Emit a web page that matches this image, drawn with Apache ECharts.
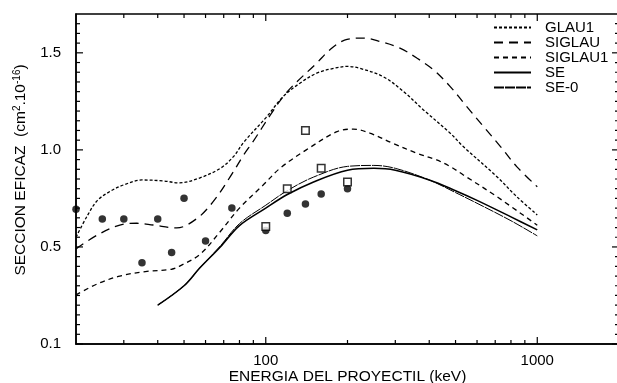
<!DOCTYPE html>
<html>
<head>
<meta charset="utf-8">
<script src="https://cdn.jsdelivr.net/npm/echarts@6/dist/echarts.min.js"></script>
<style>
  html, body { margin: 0; padding: 0; background: #fff; }
  #chart { width: 617px; height: 383px; }
</style>
</head>
<body>
<div id="chart"></div>
<script>
// curves (energy in keV, cross section)
const glau1E = [20, 22, 24, 27, 30, 35, 42, 48, 57, 68, 76, 83, 100, 116, 134, 154, 178, 200, 222, 270, 322, 381, 478, 534, 710, 840, 1000];
const glau1V = [0.55, 0.66, 0.74, 0.79, 0.82, 0.845, 0.84, 0.83, 0.855, 0.905, 0.965, 1.04, 1.165, 1.275, 1.345, 1.395, 1.42, 1.43, 1.42, 1.378, 1.30, 1.206, 1.086, 1.017, 0.862, 0.759, 0.665];

const siglauE = [20, 24, 29, 33.5, 38.5, 47, 55.6, 64, 74, 83, 90, 104, 120, 154, 172, 195, 229, 264, 312, 360, 415, 478, 550, 634, 732, 840, 1000];
const siglauV = [0.49, 0.562, 0.613, 0.622, 0.613, 0.598, 0.645, 0.733, 0.862, 0.975, 1.045, 1.18, 1.30, 1.447, 1.515, 1.565, 1.576, 1.558, 1.524, 1.473, 1.412, 1.326, 1.223, 1.12, 1.017, 0.914, 0.81];

const siglau1E = [20, 24, 29, 36, 45, 48, 57, 67.6, 80, 98, 113, 141, 183, 210, 242, 294, 360, 426, 478, 534, 710, 1000];
const siglau1V = [0.253, 0.31, 0.35, 0.373, 0.385, 0.40, 0.46, 0.575, 0.70, 0.82, 0.906, 1.0, 1.094, 1.107, 1.086, 1.034, 0.983, 0.948, 0.914, 0.871, 0.759, 0.612];

const seE = [40, 50, 57, 68, 80, 100, 120, 150, 200, 250, 300, 400, 500, 600, 800, 1000];
const seV = [0.20, 0.30, 0.39, 0.50, 0.61, 0.70, 0.77, 0.835, 0.895, 0.905, 0.895, 0.845, 0.79, 0.74, 0.655, 0.588];

const se0E = [40, 50, 57, 68, 80, 100, 120, 150, 200, 250, 300, 400, 500, 600, 800, 1000];
const se0V = [0.20, 0.30, 0.39, 0.505, 0.62, 0.715, 0.79, 0.86, 0.915, 0.92, 0.905, 0.845, 0.78, 0.725, 0.635, 0.557];

// experimental points
const circlesE = [20, 25, 30, 35, 40, 45, 50, 60, 75, 100, 120, 140, 160, 200];
const circlesV = [0.694, 0.644, 0.644, 0.419, 0.644, 0.471, 0.751, 0.531, 0.70, 0.585, 0.674, 0.721, 0.773, 0.80];
const squaresE = [100, 120, 140, 160, 200];
const squaresV = [0.605, 0.80, 1.10, 0.905, 0.835];

// ticks and labels
const xLabelValues = [100, 1000];
const xMajorTicks = [100, 1000];
const xMinorTicks = [30, 40, 50, 60, 70, 80, 90, 200, 300, 400, 500, 600, 700, 800, 900];
const yMajorTicks = [0, 0.5, 1.0, 1.5];
const yTickLabels = ['0.1', '0.5', '1.0', '1.5'];
const yMinorTicks = [0.05, 0.1, 0.15, 0.2, 0.25, 0.3, 0.35, 0.4, 0.45, 0.55, 0.6, 0.65, 0.7, 0.75, 0.8, 0.85, 0.9, 0.95,
                     1.05, 1.1, 1.15, 1.2, 1.25, 1.3, 1.35, 1.4, 1.45, 1.55, 1.6, 1.65];

const legendNames = ['GLAU1', 'SIGLAU', 'SIGLAU1', 'SE', 'SE-0'];

const pairs = (xs, ys) => xs.map((x, i) => [x, ys[i]]);

const FONT = 'Liberation Sans, Arial, sans-serif';
const X_MIN = 20, X_MAX = 2000, Y_MIN = 0, Y_MAX = 1.7;

function curve(name, xs, ys, type, width) {
  return {
    name: name,
    type: 'line',
    data: pairs(xs, ys),
    smooth: 0.35,
    symbol: 'none',
    lineStyle: { color: '#000', width: width, type: type },
    itemStyle: { color: '#000' },
    z: 3
  };
}

// inward tick marks on both sides of the frame, placed through the axis scales
function xTicks(values, len) {
  return {
    type: 'custom',
    data: values.map(v => [v, Y_MIN]),
    clip: false,
    z: 6,
    renderItem: (params, api) => {
      const b = api.coord([api.value(0), Y_MIN]);
      const t = api.coord([api.value(0), Y_MAX]);
      return { type: 'group', children: [
        { type: 'line', shape: { x1: b[0], y1: b[1], x2: b[0], y2: b[1] - len },
          style: { stroke: '#000', lineWidth: 1.2 } },
        { type: 'line', shape: { x1: t[0], y1: t[1], x2: t[0], y2: t[1] + len },
          style: { stroke: '#000', lineWidth: 1.2 } }
      ] };
    }
  };
}

function yTicks(values, len) {
  return {
    type: 'custom',
    data: values.map(v => [X_MIN, v]),
    clip: false,
    z: 6,
    renderItem: (params, api) => {
      const l = api.coord([X_MIN, api.value(1)]);
      const r = api.coord([X_MAX, api.value(1)]);
      return { type: 'group', children: [
        { type: 'line', shape: { x1: l[0], y1: l[1], x2: l[0] + len, y2: l[1] },
          style: { stroke: '#000', lineWidth: 1.2 } },
        { type: 'line', shape: { x1: r[0], y1: r[1], x2: r[0] - len, y2: r[1] },
          style: { stroke: '#000', lineWidth: 1.2 } }
      ] };
    }
  };
}

const chart = echarts.init(document.getElementById('chart'), null, { renderer: 'canvas' });

chart.setOption({
  backgroundColor: '#fff',
  animation: false,
  grid: { left: 76, right: -2, top: 14, bottom: 39, outerBoundsMode: 'none',
          show: true, borderColor: '#000', borderWidth: 1.5, backgroundColor: 'transparent' },
  legend: {
    data: legendNames,
    orient: 'vertical',
    left: 493,
    top: 20,
    padding: 0,
    itemWidth: 37,
    itemHeight: 14,
    itemGap: 0,
    itemStyle: { opacity: 0 },
    textStyle: { color: '#000', fontSize: 15, lineHeight: 14, fontFamily: FONT, padding: [0, 0, 0, 9] },
    inactiveColor: '#000'
  },
  xAxis: {
    type: 'log',
    min: X_MIN,
    max: X_MAX,
    axisLine: { show: true, lineStyle: { color: '#000', width: 1.5 } },
    axisTick: { show: false },
    axisLabel: { show: true, customValues: xLabelValues, color: '#000', fontSize: 15,
                 fontFamily: FONT, margin: 9, formatter: v => String(v) },
    splitLine: { show: false },
    minorTick: { show: false },
    name: 'ENERGIA DEL PROYECTIL (keV)',
    nameLocation: 'middle',
    nameMoveOverlap: false,
    nameGap: 25,
    nameTextStyle: { color: '#000', fontSize: 15.5, fontFamily: FONT }
  },
  yAxis: {
    type: 'value',
    min: Y_MIN,
    max: Y_MAX,
    interval: 0.5,
    axisLine: { show: true, lineStyle: { color: '#000', width: 1.5 } },
    axisTick: { show: false },
    axisLabel: { show: true, color: '#000', fontSize: 15, fontFamily: FONT, margin: 15,
                 formatter: v => yTickLabels[yMajorTicks.indexOf(+(+v).toFixed(2))] || '' },
    splitLine: { show: false },
    name: 'SECCION EFICAZ  (cm{sup|2}.10{sup|-16})',
    nameLocation: 'middle',
    nameRotate: 90,
    nameGap: 46,
    nameTextStyle: { color: '#000', fontSize: 15.5, fontFamily: FONT, padding: [0, 0, 0, 18],
                     rich: { sup: { fontSize: 10, fontFamily: FONT, color: '#000', padding: [0, 0, 8, 0] } } }
  },
  series: [
    curve('GLAU1', glau1E, glau1V, [3, 2], 1.3),
    curve('SIGLAU', siglauE, siglauV, [9, 6], 1.3),
    curve('SIGLAU1', siglau1E, siglau1V, [5, 4], 1.3),
    curve('SE', seE, seV, 'solid', 1.6),
    curve('SE-0', se0E, se0V, [10, 1], 1.0),
    {
      name: 'circles',
      type: 'scatter',
      data: pairs(circlesE, circlesV),
      symbol: 'circle',
      symbolSize: 7.5,
      itemStyle: { color: '#000' },
      z: 4
    },
    {
      name: 'squares',
      type: 'scatter',
      data: pairs(squaresE, squaresV),
      symbol: 'rect',
      symbolSize: 7.5,
      itemStyle: { color: '#fff', borderColor: '#000', borderWidth: 1.5 },
      z: 5
    },
    xTicks(xMajorTicks, 7),
    xTicks(xMinorTicks, 4),
    yTicks(yMajorTicks, 7),
    yTicks(yMinorTicks, 4)
  ]
});
</script>
</body>
</html>
